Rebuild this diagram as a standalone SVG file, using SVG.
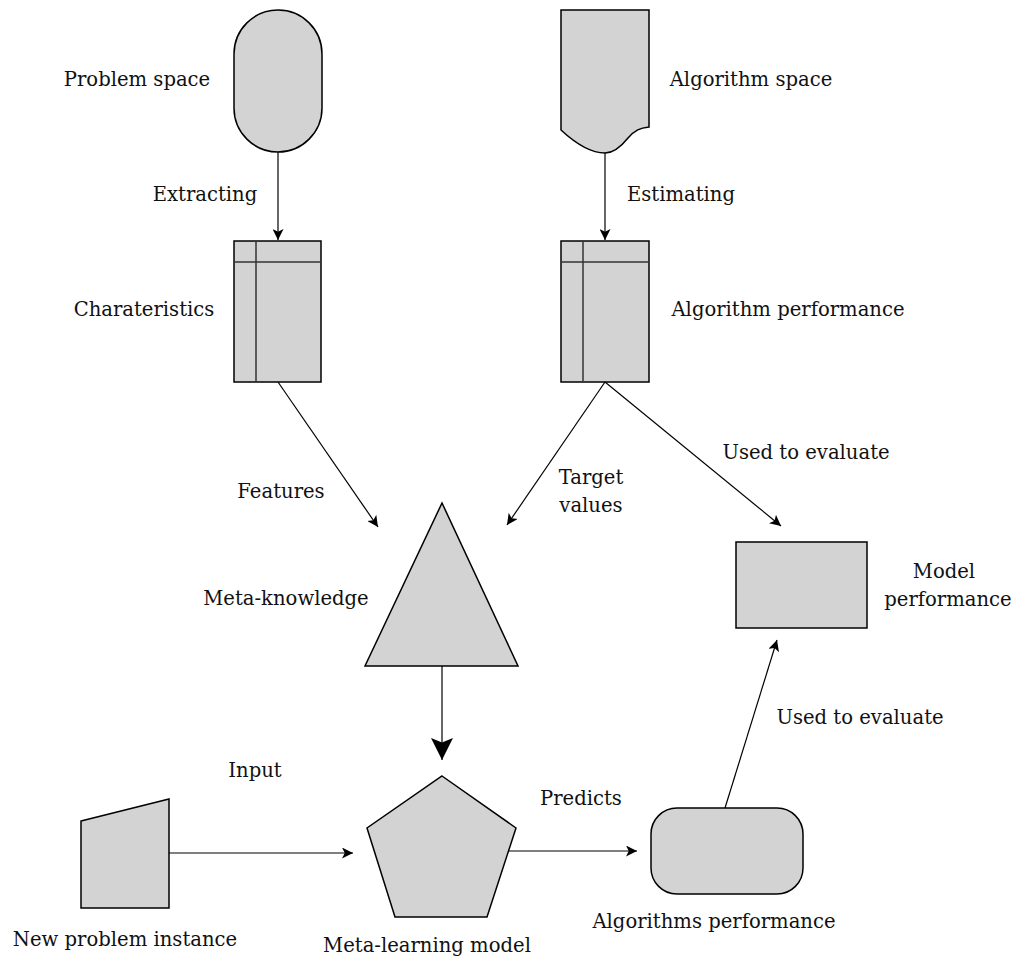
<svg xmlns="http://www.w3.org/2000/svg" width="1012" height="958" viewBox="0 0 1012 958">
  <style>
    .shape { fill: #d3d3d3; stroke: #000; stroke-width: 1.5; }
    .grid { fill: none; stroke: #333; stroke-width: 1.5; }
    .edge { fill: none; stroke: #000; stroke-width: 1.2; }
    .label { font-family: "DejaVu Serif", "Liberation Serif", serif; font-size: 19.6px; fill: #111; text-anchor: middle; }
  </style>
  <defs>
    <marker id="arrow" viewBox="0 0 10 10" refX="10" refY="5" markerWidth="12" markerHeight="11" markerUnits="userSpaceOnUse" orient="auto">
      <path d="M0,0 L10,5 L0,10 L2.5,5 Z" fill="#000"/>
    </marker>
    <marker id="arrow-big" viewBox="0 0 10 10" refX="10" refY="5" markerWidth="26" markerHeight="22" markerUnits="userSpaceOnUse" orient="auto">
      <path d="M0,0 L10,5 L0,10 L2,5 Z" fill="#000"/>
    </marker>
  </defs>

  <rect width="1012" height="958" fill="#fff"/>

  <g id="connectors">
    <line class="edge" x1="278" y1="152" x2="278" y2="240" marker-end="url(#arrow)"/>
    <line class="edge" x1="605" y1="153" x2="605" y2="240" marker-end="url(#arrow)"/>
    <line class="edge" x1="278" y1="382" x2="378" y2="527" marker-end="url(#arrow)"/>
    <line class="edge" x1="605" y1="382" x2="507" y2="525" marker-end="url(#arrow)"/>
    <line class="edge" x1="605" y1="382" x2="781" y2="526" marker-end="url(#arrow)"/>
    <line class="edge" x1="442" y1="666" x2="442" y2="760" stroke-width="2" marker-end="url(#arrow-big)"/>
    <line class="edge" x1="169" y1="853" x2="353" y2="853" marker-end="url(#arrow)"/>
    <line class="edge" x1="508" y1="851" x2="637" y2="851" marker-end="url(#arrow)"/>
    <line class="edge" x1="725" y1="808" x2="777" y2="640" marker-end="url(#arrow)"/>
  </g>

  <g id="problem-space">
    <rect class="shape" x="234" y="10" width="88" height="142" rx="44" ry="44"/>
    <text class="label" x="137" y="86">Problem space</text>
  </g>

  <g id="algorithm-space">
    <path class="shape" d="M561,10 L649,10 L649,127 C640,128 635,130 628,138 C620,148 612,153 605,153 C590,153 575,143 561,130 Z"/>
    <text class="label" x="751" y="86">Algorithm space</text>
  </g>

  <g id="extracting-label">
    <text class="label" x="205" y="201">Extracting</text>
  </g>
  <g id="estimating-label">
    <text class="label" x="681" y="201">Estimating</text>
  </g>

  <g id="characteristics">
    <rect class="shape" x="234" y="241" width="87" height="141"/>
    <line class="grid" x1="234" y1="262" x2="321" y2="262"/>
    <line class="grid" x1="256" y1="241" x2="256" y2="382"/>
    <text class="label" x="144" y="316">Charateristics</text>
  </g>

  <g id="algorithm-performance">
    <rect class="shape" x="561" y="241" width="88" height="141"/>
    <line class="grid" x1="561" y1="262" x2="649" y2="262"/>
    <line class="grid" x1="583" y1="241" x2="583" y2="382"/>
    <text class="label" x="788" y="316">Algorithm performance</text>
  </g>

  <g id="edge-labels">
    <text class="label" x="281" y="498">Features</text>
    <text class="label" x="591" y="484">Target</text>
    <text class="label" x="591" y="512">values</text>
    <text class="label" x="806" y="459">Used to evaluate</text>
    <text class="label" x="860" y="724">Used to evaluate</text>
    <text class="label" x="255" y="777">Input</text>
    <text class="label" x="581" y="805">Predicts</text>
  </g>

  <g id="meta-knowledge">
    <polygon class="shape" points="442,503 518,666 365,666"/>
    <text class="label" x="286" y="605">Meta-knowledge</text>
  </g>

  <g id="model-performance">
    <rect class="shape" x="736" y="542" width="131" height="86"/>
    <text class="label" x="944" y="578">Model</text>
    <text class="label" x="948" y="606">performance</text>
  </g>

  <g id="meta-learning-model">
    <polygon class="shape" points="442,776 516,828 487,917 395,917 367,828"/>
    <text class="label" x="427" y="952">Meta-learning model</text>
  </g>

  <g id="new-problem-instance">
    <polygon class="shape" points="81,821 169,799 169,908 81,908"/>
    <text class="label" x="125" y="946">New problem instance</text>
  </g>

  <g id="algorithms-performance">
    <rect class="shape" x="651" y="808" width="152" height="86" rx="26" ry="26"/>
    <text class="label" x="714" y="928">Algorithms performance</text>
  </g>
</svg>
